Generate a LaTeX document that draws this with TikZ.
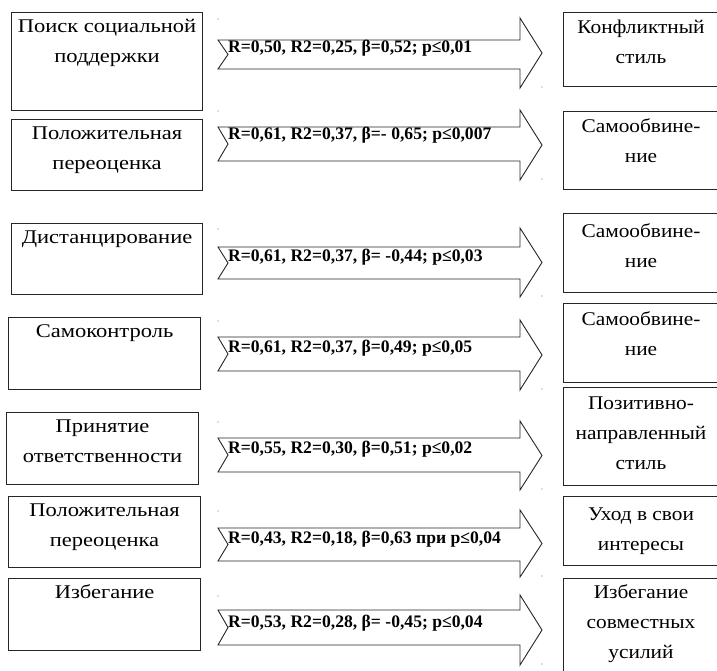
\documentclass[tikz,border=0pt]{standalone}
\usepackage{fontspec}
\setmainfont{Liberation Serif}
\newfontfamily\srcfont[FakeStretch=1.16]{Liberation Serif}
\newfontfamily\stylefont[FakeStretch=1.1]{Liberation Serif}

% block arrow with a notched tail:
% #1 body top, #2 body bottom, #3 head top, #4 head bottom
\newcommand\blockarrow[4]{%
  \pgfmathsetmacro\notchy{(#1+#2)/2}%
  \pgfmathsetmacro\tipy{(#3+#4)/2}%
  \draw[blockarr] (218,#1) -- (520,#1) -- (520,#3) -- (542,\tipy)
    -- (520,#4) -- (520,#2) -- (218,#2) -- (228,\notchy) -- cycle;
  \fill[speck] (218,#3+1) circle (0.6);
  \fill[speck] (542,#4-1) circle (0.6);
}

\begin{document}
\begin{tikzpicture}[x=1pt,y=-1pt,
  box/.style={draw=black!85, line width=1.1pt, inner sep=0pt, anchor=north west},
  boxtext/.style={inner sep=0pt, align=center, anchor=north},
  srctext/.style={boxtext, font=\srcfont\fontsize{19.4}{29.7}\selectfont},
  styletext/.style={boxtext, font=\stylefont\fontsize{19.4}{29.9}\selectfont},
  arrowtext/.style={inner sep=0pt, anchor=base west,
    font=\fontsize{17.6}{21}\selectfont\bfseries},
  blockarr/.style={draw=black!85, line width=0.9pt, fill=white, line join=miter},
  speck/.style={fill=black!55}]
\useasboundingbox (0,0) rectangle (717,671);
\clip (0,0) rectangle (717,671);

% coping strategies (left column)
\node[box, minimum width=191pt, minimum height=98pt] (s1) at (11,12) {};
\node[box, minimum width=191pt, minimum height=71pt] (s2) at (11,119) {};
\node[box, minimum width=191pt, minimum height=71pt] (s3) at (11,223) {};
\node[box, minimum width=192pt, minimum height=72pt] (s4) at (8,317) {};
\node[box, minimum width=192pt, minimum height=72pt] (s5) at (6,412) {};
\node[box, minimum width=192pt, minimum height=71pt] (s6) at (8,496) {};
\node[box, minimum width=192pt, minimum height=72pt] (s7) at (8,578) {};

\node[srctext] (s1t) at (s1.north) {\strut Поиск социальной\\поддержки};
\node[srctext] (s2t) at (s2.north) {\strut Положительная\\переоценка};
\node[srctext] (s3t) at (s3.north) {\strut Дистанцирование};
\node[srctext] (s4t) at (s4.north) {\strut Самоконтроль};
\node[srctext] (s5t) at (s5.north) {\strut Принятие\\ответственности};
\node[srctext] (s6t) at (s6.north) {\strut Положительная\\переоценка};
\node[srctext] (s7t) at (s7.north) {\strut Избегание};

% conflict styles (right column)
\node[box, minimum width=162pt, minimum height=74pt] (c1) at (563,12) {};
\node[box, minimum width=162pt, minimum height=78pt] (c2) at (563,111) {};
\node[box, minimum width=162pt, minimum height=79pt] (c3) at (563,213) {};
\node[box, minimum width=162pt, minimum height=79pt] (c4) at (563,303) {};
\node[box, minimum width=162pt, minimum height=98pt] (c5) at (563,387) {};
\node[box, minimum width=162pt, minimum height=69pt] (c6) at (563,496) {};
\node[box, minimum width=162pt, minimum height=110pt] (c7) at (563,578) {};

\node[styletext] (c1t) at (641,33-20.9) {\strut Конфликтный\\стиль};
\node[styletext] (c2t) at (641,132-20.9) {\strut Самообвине-\\ние};
\node[styletext] (c3t) at (641,237-20.9) {\strut Самообвине-\\ние};
\node[styletext] (c4t) at (641,325-20.9) {\strut Самообвине-\\ние};
\node[styletext] (c5t) at (641,409-20.9) {\strut Позитивно-\\направленный\\стиль};
\node[styletext] (c6t) at (641,520-20.9) {\strut Уход в свои\\интересы};
\node[styletext] (c7t) at (641,598-20.9) {\strut Избегание\\совместных\\усилий};

% regression arrows
\blockarrow{40}{69}{18}{88}
\node[arrowtext] (a1) at (228,53) {R=0,50, R2=0,25, β=0,52; p≤0,01};
\blockarrow{127}{161}{110}{180}
\node[arrowtext] (a2) at (228,140) {R=0,61, R2=0,37, β=- 0,65; p≤0,007};
\blockarrow{247}{279}{228}{297}
\node[arrowtext] (a3) at (228,261) {R=0,61, R2=0,37, β= -0,44; p≤0,03};
\blockarrow{337}{371}{320}{390}
\node[arrowtext] (a4) at (228,352) {R=0,61, R2=0,37, β=0,49; p≤0,05};
\blockarrow{438}{472}{421}{490}
\node[arrowtext] (a5) at (228,453) {R=0,55, R2=0,30, β=0,51; p≤0,02};
\blockarrow{528}{561}{510}{577}
\node[arrowtext] (a6) at (228,543) {R=0,43, R2=0,18, β=0,63 при p≤0,04};
\blockarrow{610}{645}{595}{665}
\node[arrowtext] (a7) at (228,627) {R=0,53, R2=0,28, β= -0,45; p≤0,04};
\end{tikzpicture}
\end{document}
